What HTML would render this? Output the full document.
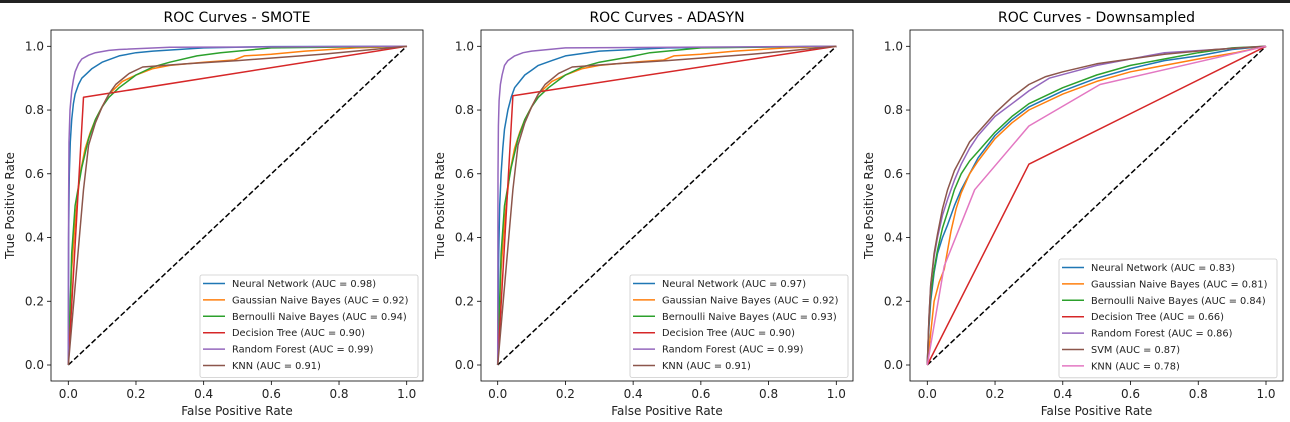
<!DOCTYPE html>
<html><head><meta charset="utf-8"><style>
body{margin:0;background:#fff;width:1290px;height:422px;overflow:hidden}
svg{display:block;font-family:"DejaVu Sans","Liberation Sans",sans-serif}
</style></head><body>
<svg id="fig" width="1290" height="422" viewBox="0 0 1290 422">
<rect x="0" y="0" width="1290" height="3" fill="#222"/>
</svg>
<script>
const colors = ["#1f77b4","#ff7f0e","#2ca02c","#d62728","#9467bd","#8c564b","#e377c2"];
const smoteNames = ["Neural Network","Gaussian Naive Bayes","Bernoulli Naive Bayes","Decision Tree","Random Forest","KNN"];
const downNames = ["Neural Network","Gaussian Naive Bayes","Bernoulli Naive Bayes","Decision Tree","Random Forest","SVM","KNN"];
const smoteAuc = ["0.98","0.92","0.94","0.90","0.99","0.91"];
const adasynAuc = ["0.97","0.92","0.93","0.90","0.99","0.91"];
const downAuc = ["0.83","0.81","0.84","0.66","0.86","0.87","0.78"];
const tickVals = [0,0.2,0.4,0.6,0.8,1.0];
const tickLabels = ["0.0","0.2","0.4","0.6","0.8","1.0"];

const smoteNN = [[0,0],[0.001,0.4],[0.003,0.6],[0.006,0.7],[0.01,0.77],[0.015,0.82],[0.02,0.85],[0.03,0.88],[0.04,0.9],[0.055,0.915],[0.07,0.93],[0.1,0.95],[0.15,0.97],[0.2,0.98],[0.25,0.985],[0.4,0.995],[0.6,0.999],[1,1]];
const smoteGNB = [[0,0],[0.01,0.3],[0.02,0.45],[0.035,0.6],[0.05,0.68],[0.065,0.73],[0.08,0.77],[0.1,0.81],[0.12,0.85],[0.14,0.87],[0.16,0.89],[0.2,0.91],[0.25,0.93],[0.3,0.94],[0.4,0.95],[0.49,0.957],[0.52,0.97],[0.6,0.975],[0.7,0.985],[0.85,0.995],[1,1]];
const smoteBNB = [[0,0],[0.01,0.35],[0.02,0.5],[0.04,0.62],[0.06,0.71],[0.08,0.77],[0.1,0.81],[0.12,0.84],[0.15,0.87],[0.2,0.91],[0.25,0.935],[0.3,0.95],[0.38,0.97],[0.45,0.98],[0.6,0.995],[1,1]];
const smoteDT = [[0,0],[0.045,0.84],[1,1]];
const smoteRF = [[0,0],[0.001,0.5],[0.002,0.7],[0.005,0.8],[0.01,0.86],[0.015,0.895],[0.02,0.92],[0.03,0.945],[0.04,0.96],[0.06,0.972],[0.08,0.98],[0.12,0.987],[0.15,0.99],[0.3,0.997],[1,1]];
const smoteKNN = [[0,0],[0.045,0.55],[0.06,0.69],[0.08,0.76],[0.1,0.81],[0.12,0.85],[0.14,0.88],[0.18,0.915],[0.22,0.935],[0.35,0.945],[0.5,0.955],[0.75,0.975],[1,1]];

const adaNN = [[0,0],[0.003,0.35],[0.006,0.5],[0.01,0.6],[0.015,0.68],[0.02,0.74],[0.03,0.8],[0.04,0.84],[0.05,0.87],[0.065,0.89],[0.08,0.91],[0.1,0.925],[0.12,0.94],[0.16,0.955],[0.2,0.97],[0.3,0.985],[0.5,0.995],[1,1]];
const adaGNB = [[0,0],[0.01,0.3],[0.02,0.45],[0.035,0.6],[0.05,0.68],[0.065,0.73],[0.08,0.77],[0.1,0.81],[0.12,0.85],[0.14,0.87],[0.16,0.89],[0.2,0.91],[0.25,0.93],[0.3,0.94],[0.4,0.95],[0.49,0.957],[0.52,0.97],[0.6,0.975],[0.7,0.985],[0.85,0.995],[1,1]];
const adaBNB = [[0,0],[0.01,0.35],[0.02,0.5],[0.04,0.62],[0.06,0.71],[0.08,0.77],[0.1,0.81],[0.12,0.84],[0.15,0.87],[0.2,0.91],[0.25,0.935],[0.3,0.95],[0.38,0.965],[0.45,0.98],[0.6,0.995],[1,1]];
const adaDT = [[0,0],[0.045,0.845],[1,1]];
const adaRF = [[0,0],[0.001,0.6],[0.002,0.75],[0.004,0.83],[0.008,0.88],[0.013,0.91],[0.02,0.94],[0.03,0.955],[0.05,0.97],[0.075,0.98],[0.1,0.985],[0.2,0.995],[1,1]];
const adaKNN = [[0,0],[0.045,0.55],[0.06,0.69],[0.08,0.76],[0.1,0.81],[0.12,0.85],[0.14,0.88],[0.18,0.915],[0.22,0.935],[0.35,0.945],[0.5,0.955],[0.75,0.975],[1,1]];

const downNN = [[0,0],[0.005,0.12],[0.01,0.2],[0.02,0.29],[0.03,0.35],[0.045,0.4],[0.06,0.44],[0.08,0.5],[0.1,0.55],[0.125,0.6],[0.15,0.65],[0.2,0.72],[0.25,0.77],[0.3,0.81],[0.4,0.86],[0.5,0.9],[0.6,0.93],[0.7,0.955],[0.8,0.97],[0.9,0.99],[1,1]];
const downGNB = [[0,0],[0.01,0.1],[0.02,0.2],[0.035,0.26],[0.05,0.3],[0.06,0.36],[0.07,0.42],[0.085,0.49],[0.1,0.54],[0.125,0.6],[0.15,0.64],[0.2,0.71],[0.25,0.76],[0.3,0.8],[0.4,0.85],[0.5,0.89],[0.6,0.92],[0.7,0.94],[0.8,0.96],[0.91,0.98],[1,1]];
const downBNB = [[0,0],[0.005,0.14],[0.01,0.22],[0.02,0.3],[0.03,0.36],[0.045,0.43],[0.06,0.48],[0.08,0.55],[0.1,0.6],[0.125,0.64],[0.15,0.67],[0.2,0.73],[0.25,0.78],[0.3,0.82],[0.4,0.87],[0.5,0.91],[0.6,0.94],[0.7,0.96],[0.8,0.98],[0.9,0.995],[1,1]];
const downDT = [[0,0],[0.3,0.63],[1,1]];
const downRF = [[0,0],[0.005,0.15],[0.01,0.25],[0.02,0.34],[0.03,0.4],[0.045,0.47],[0.06,0.52],[0.08,0.58],[0.1,0.63],[0.125,0.68],[0.15,0.72],[0.2,0.78],[0.25,0.82],[0.3,0.86],[0.36,0.9],[0.43,0.92],[0.5,0.94],[0.6,0.96],[0.7,0.98],[0.85,0.99],[1,1]];
const downSVM = [[0,0],[0.005,0.15],[0.01,0.25],[0.02,0.35],[0.03,0.41],[0.045,0.49],[0.06,0.55],[0.08,0.61],[0.1,0.65],[0.125,0.7],[0.15,0.73],[0.2,0.79],[0.25,0.84],[0.3,0.88],[0.35,0.905],[0.4,0.92],[0.5,0.945],[0.6,0.96],[0.7,0.975],[0.85,0.99],[1,1]];
const downKNN = [[0,0],[0.05,0.31],[0.14,0.55],[0.3,0.75],[0.51,0.88],[1,1]];

const NS="http://www.w3.org/2000/svg";
const svg=document.getElementById('fig');
function mk(tag,attrs,parent){const e=document.createElementNS(NS,tag);for(const k in attrs)e.setAttribute(k,attrs[k]);(parent||svg).appendChild(e);return e;}

const panels=[
 {title:"ROC Curves - SMOTE",key:"smote",L:51,R:423,x0:68.3,x1:406.7,series:[smoteNN,smoteGNB,smoteBNB,smoteDT,smoteRF,smoteKNN],names:smoteNames,auc:smoteAuc,leg:[200,275,218]},
 {title:"ROC Curves - ADASYN",key:"adasyn",L:481,R:853,x0:497.7,x1:836.3,series:[adaNN,adaGNB,adaBNB,adaDT,adaRF,adaKNN],names:smoteNames,auc:adasynAuc,leg:[630,275,218]},
 {title:"ROC Curves - Downsampled",key:"downsampled",L:910,R:1283,x0:927.3,x1:1266,series:[downNN,downGNB,downBNB,downDT,downRF,downSVM,downKNN],names:downNames,auc:downAuc,leg:[1059,259,218]}
];
const T=30,B=381,Y0=365,Y1=46.3;
panels.forEach(p=>{
  const g=mk('g',{});
  
  
  const sx=v=>p.x0+(p.x1-p.x0)*v, sy=v=>Y0+(Y1-Y0)*v;
  const t=mk('text',{x:(p.L+p.R)/2,y:22,'text-anchor':'middle','font-size':14,fill:'#000'},g);t.textContent=p.title;
  
  
  tickVals.forEach((v,i)=>{
    mk('line',{x1:sx(v),x2:sx(v),y1:B,y2:B+4,stroke:'#000','stroke-width':0.8},g);
    const tx=mk('text',{x:sx(v),y:B+17,'text-anchor':'middle','font-size':12,fill:'#222'},g);tx.textContent=tickLabels[i];
    
    
    mk('line',{x1:p.L-4,x2:p.L,y1:sy(v),y2:sy(v),stroke:'#000','stroke-width':0.8},g);
    const ty=mk('text',{x:p.L-7,y:sy(v)+4,'text-anchor':'end','font-size':12,fill:'#222'},g);ty.textContent=tickLabels[i];
    
    
  });
  const xl=mk('text',{x:(p.L+p.R)/2,y:415,'text-anchor':'middle','font-size':12,fill:'#222'},g);xl.textContent="False Positive Rate";
  
  
  const yx=p.L-37;
  const yl=mk('text',{x:yx,y:(T+B)/2,'text-anchor':'middle','font-size':12,fill:'#222',transform:`rotate(-90 ${yx} ${(T+B)/2})`},g);yl.textContent="True Positive Rate";
  
  
  const diag=mk('line',{x1:sx(0),y1:sy(0),x2:sx(1),y2:sy(1),stroke:'#000','stroke-width':1.5,'stroke-dasharray':'5.5,2.5'},g);
  
  
  p.series.forEach((s,i)=>{
    const ci=(p.series.length===6||i<6)?i:6;
    const pl=mk('polyline',{points:s.map(d=>sx(d[0]).toFixed(1)+','+sy(d[1]).toFixed(1)).join(' '),fill:'none',stroke:colors[ci],'stroke-width':1.5,'stroke-linejoin':'round'},g);
    
    
  });
  mk('rect',{x:p.L,y:T,width:p.R-p.L,height:B-T,fill:'none',stroke:'#000','stroke-width':0.8},g);
  const [lx,ly,lw]=p.leg, n=p.names.length;
  const lg=mk('g',{},g);
  
  
  mk('rect',{x:lx,y:ly,width:lw,height:n*16.4+4,fill:'#fff','fill-opacity':0.8,stroke:'#ccc','stroke-width':0.8,rx:2},lg);
  p.names.forEach((nm,i)=>{
    const yy=ly+8.5+i*16.4;
    const ci=(n===6||i<6)?i:6;
    mk('line',{x1:lx+3,x2:lx+25,y1:yy,y2:yy,stroke:colors[ci],'stroke-width':1.5},lg);
    const lt=mk('text',{x:lx+32,y:yy+3.5,'font-size':9.8,fill:'#222'},lg);lt.textContent=`${nm} (AUC = ${p.auc[i]})`;
    
    
  });
});
</script>
</body></html>
